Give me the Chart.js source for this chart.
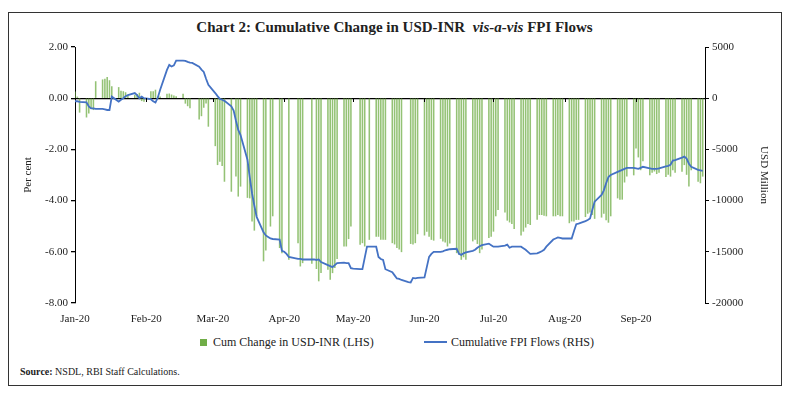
<!DOCTYPE html>
<html>
<head>
<meta charset="utf-8">
<script src="https://cdn.jsdelivr.net/npm/chart.js@4.4.1/dist/chart.umd.min.js"></script>
<style>
  html, body { margin: 0; padding: 0; background: #fff; }
  body { width: 789px; height: 394px; position: relative; overflow: hidden; font-family: "Liberation Serif", serif; color: #222; }
  .frame { position: absolute; left: 8px; top: 12px; width: 774px; height: 374px; border: 1px solid #333; box-sizing: border-box; }
  .title { position: absolute; left: 0; top: 18px; width: 789px; text-align: center; font-size: 15px; font-weight: bold; line-height: 18px; }
  .chart-wrap { position: absolute; left: 0; top: 0; width: 789px; height: 335px; }
  .legend-item { position: absolute; top: 335px; font-size: 12px; line-height: 14px; white-space: nowrap; }
  .swatch-box { position: absolute; left: 200px; top: 339px; width: 7px; height: 7px; }
  .swatch-line { position: absolute; left: 424px; top: 341px; width: 23px; height: 2px; }
  .source { position: absolute; left: 20px; top: 366px; font-size: 10px; line-height: 12px; }
</style>
</head>
<body>
<div class="frame"></div>
<div class="title">Chart 2: Cumulative Change in USD-INR&nbsp; <i>vis-a-vis</i> FPI Flows</div>
<div class="chart-wrap"><canvas id="fxChart"></canvas></div>
<span class="swatch-box" id="barSwatch"></span>
<span class="legend-item" id="barLabel" style="left:213px"></span>
<span class="swatch-line" id="lineSwatch"></span>
<span class="legend-item" id="lineLabel" style="left:451px"></span>
<div class="source"><b>Source:</b> NSDL, RBI Staff Calculations.</div>

<script>
// month ticks (day index counted from 1 Jan 2020)
const monthStarts = [0, 31, 60, 91, 121, 152, 182, 213, 244];
const monthLabels = ['Jan-20', 'Feb-20', 'Mar-20', 'Apr-20', 'May-20', 'Jun-20', 'Jul-20', 'Aug-20', 'Sep-20'];

// weekdays from 1 Jan 2020 (Wed) to 30 Sep 2020
const tradeDays = [];
for (let d = 0; d <= 273; d++) {
  if (d % 7 !== 3 && d % 7 !== 4) tradeDays.push(d);
}

// cumulative change in USD-INR, per cent (null = market holiday)
const usdInrChange = [
  0.25, 0.05, -0.55,
  -0.74, -0.58, -0.39, -0.45, 0.65,
  0.72, 0.75, 0.82, 0.69, 0.45,
  0.42, 0.28, 0.26, 0.22, 0.10,
  0.12, 0.15, 0.20, -0.10, -0.13,
  0.26, 0.26, 0.32, 0.05, 0.05,
  0.16, 0.17, 0.13, 0.09, 0.06,
  0.16, -0.20, -0.30, -0.38, null,
  -0.82, -0.69, -0.36, -0.19, -1.10,
  -1.86, -2.60, -2.47, -2.64, -3.25,
  -3.64, null, -3.05, -3.83, -3.44,
  -3.88, -3.90, -4.80, -5.16, -4.60,
  -6.36, -5.94, null, -5.00, -4.60,
  -5.84, -6.04, null, null, -6.30,
  null, -5.65, -6.56, -6.43, null,
  -6.45, null, -6.66, -7.14, -6.82,
  -6.69, -7.08, -6.82, -6.62, -6.27,
  -5.78, -5.78, -5.49, -5.00, null,
  -5.71, -5.65, -5.78, null, -5.52,
  -5.40, -5.40, -5.52, -5.52, -5.52,
  -5.65, -5.70, -5.84, -5.90, -6.00,
  null, -5.68, -5.70, -5.65, -5.30,
  -5.35, -5.20, -5.40, -5.52, -5.55,
  -5.48, -5.58, -5.62, -5.78, -5.66,
  -6.04, -6.10, -6.30, -6.20, -6.30,
  -5.58, -5.52, -5.68, -6.04, -5.90,
  -5.45, -5.40, -5.20, -4.60, -4.35,
  -4.45, -4.77, -4.84, -4.90, -5.10,
  -5.35, -5.20, -5.04, -4.90, -4.94,
  -4.74, -4.55, -4.55, -4.58, -4.60,
  -4.60, -4.60, -4.55, -4.60, -4.60,
  -4.87, -4.80, -4.80, -4.74, -4.74,
  -4.63, -4.50, -4.45, -4.55, -4.70,
  -4.65, -4.50, -4.75, -4.85, -4.60,
  -3.90, -3.95, -3.95, -3.28, -3.05,
  -3.00, -1.95, -2.30, -2.80, -2.45,
  -3.00, -2.90, -2.85, -2.95, -2.90,
  -3.07, -2.98, -3.05, -2.80, -2.90,
  -2.86, -2.60, -2.98, -3.44, -2.80,
  -3.25, -3.31, -3.05
];

// cumulative FPI flows, USD million
const fpiFlows = [
  -300, -300, -350,
  -400, -800, -1000, -1000, -1050,
  -1050, -1100, -1150, -1150, 150,
  -330, -150, 0, 200, 300,
  500, 300, 0, 150, 0,
  -100, -300, -430, 50, 800,
  2770, 3250, 3100, 3200, 3670,
  3670, 3650, 3550, 3470, 3450,
  3080, 2800, 2570, 1900, 1300,
  500, 200, -70, -150, -260,
  -800, -1200, -2200, -3100, -3600,
  -6000, -7700, -9300, -10500, -11600,
  -13100, -13400, -13550, -13700, -13750,
  -13800, -14900, -15000, -15200, -15500,
  -15650, -15700, -15700, -15750, -15750,
  -15750, -15750, -15800, -15750, -16000,
  -16300, -16400, -16500, -16300, -16100,
  -16050, -16100, -16100, -16600, -16650,
  -16700, -16700, -15600, -14500, -14500,
  -14500, -15500, -15700, -15800, -16700,
  -17000, -17300, -17600, -17650, -17750,
  -17950, -18000, -17550, -17600, -17550,
  -17500, -16500, -15500, -15200, -15000,
  -15000, -14950, -14850, -14800, -14750,
  -14700, -15200, -15300, -15150, -15050,
  -14900, -14800, -14600, -14450, -14350,
  -14200, -14350, -14500, -14500, -14500,
  -14400, -14300, -14600, -14500, -14500,
  -14500, -14650, -14800, -15000, -15200,
  -15150, -15050, -14950, -14800, -14500,
  -13800, -13700, -13600, -13650, -13700,
  -13700, -13700, -13000, -12300, -12250,
  -12000, -11900, -11750, -10900, -10100,
  -9450, -9000, -8300, -7700, -7500,
  -7200, -7100, -7000, -6900, -6800,
  -6800, -6850, -6900, -6800, -6700,
  -6850, -6900, -6900, -6900, -6850,
  -6650, -6600, -6500, -6100, -6050,
  -5800, -5700, -5900, -6400, -6700,
  -7000, -7050, -7100
];

const barColor = '#70ad47';
const lineColor = '#4472c4';
const axisFont = { family: '"Liberation Serif", serif', size: 11 };

// small down ticks on the zero line at each month start
const zeroLineTicks = {
  id: 'zeroLineTicks',
  afterDatasetsDraw(chart) {
    const { ctx, scales: { x, y } } = chart;
    const y0 = Math.round(y.getPixelForValue(0));
    ctx.save();
    ctx.strokeStyle = '#000';
    ctx.lineWidth = 1;
    x.ticks.forEach((t) => {
      if (t.value === 0) return;
      const px = Math.round(x.getPixelForValue(t.value)) + 0.5;
      ctx.beginPath();
      ctx.moveTo(px, y0);
      ctx.lineTo(px, y0 + 4);
      ctx.stroke();
    });
    ctx.restore();
  }
};

const chart = new Chart(document.getElementById('fxChart'), {
  data: {
    datasets: [
      {
        type: 'bar',
        label: 'Cum Change in USD-INR (LHS)',
        data: tradeDays.map((d, i) => ({ x: d, y: usdInrChange[i] })),
        backgroundColor: 'rgba(112, 173, 71, 0.75)',
        barThickness: 0.9,
        yAxisID: 'y',
        order: 2
      },
      {
        type: 'line',
        label: 'Cumulative FPI Flows (RHS)',
        data: tradeDays.map((d, i) => ({ x: d, y: fpiFlows[i] })),
        borderColor: lineColor,
        borderWidth: 1.8,
        pointRadius: 0,
        tension: 0,
        yAxisID: 'y1',
        order: 1
      }
    ]
  },
  options: {
    responsive: true,
    maintainAspectRatio: false,
    animation: false,
    layout: { padding: { top: 47, left: 0, right: 0, bottom: 0 } },
    plugins: { legend: { display: false }, tooltip: { enabled: false } },
    scales: {
      x: {
        type: 'linear',
        min: 0,
        max: 274,
        offset: false,
        grid: { display: false, drawTicks: false, offset: false },
        border: { display: false },
        afterBuildTicks: (s) => { s.ticks = monthStarts.map((v) => ({ value: v })); },
        afterFit: (s) => { s.height = 32; },
        ticks: {
          autoSkip: false,
          maxRotation: 0,
          padding: 10,
          color: '#222',
          font: axisFont,
          callback: (v) => monthLabels[monthStarts.indexOf(v)] || ''
        }
      },
      y: {
        position: 'left',
        min: -8,
        max: 2,
        afterFit: (s) => { s.width = 75; },
        ticks: { stepSize: 2, padding: 3, color: '#222', font: axisFont, callback: (v) => v.toFixed(2) },
        grid: {
          color: (c) => (c.tick && c.tick.value === 0 ? '#000' : 'rgba(0,0,0,0)'),
          lineWidth: 1.3,
          tickColor: '#000',
          tickLength: 4
        },
        border: { color: '#000', width: 1 },
        title: { display: true, text: 'Per cent', color: '#222', font: axisFont, padding: { top: 22, bottom: 0 } }
      },
      y1: {
        position: 'right',
        min: -20000,
        max: 5000,
        afterFit: (s) => { s.width = 84; },
        ticks: { stepSize: 5000, padding: 3, color: '#222', font: axisFont, callback: (v) => String(v) },
        grid: { drawOnChartArea: false, color: '#000', tickColor: '#000', tickLength: 4 },
        border: { color: '#000', width: 1 },
        title: { display: true, text: 'USD Million', color: '#222', font: axisFont, padding: { top: 19, bottom: 0 } }
      }
    }
  },
  plugins: [zeroLineTicks]
});

// legend built from the chart's own datasets
const [barSet, lineSet] = chart.data.datasets;
document.getElementById('barSwatch').style.background = barColor;
document.getElementById('barLabel').textContent = barSet.label;
document.getElementById('lineSwatch').style.background = lineSet.borderColor;
document.getElementById('lineLabel').textContent = lineSet.label;
</script>
</body>
</html>
